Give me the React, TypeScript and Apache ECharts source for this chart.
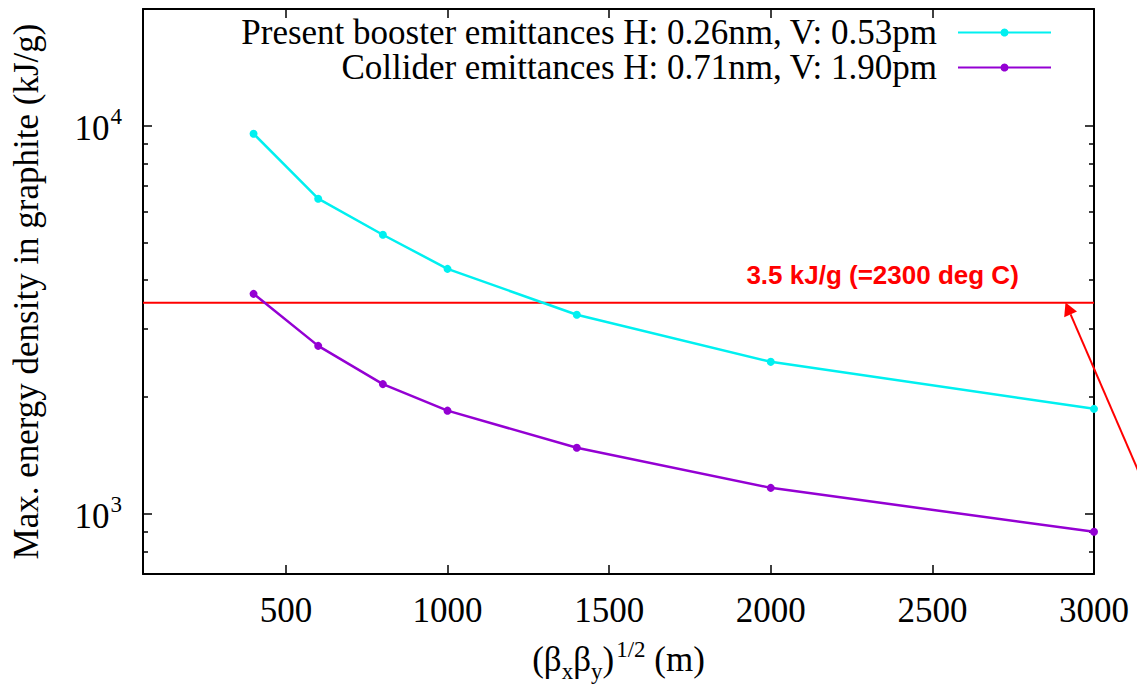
import React, { useEffect, useRef } from "react";
import * as echarts from "echarts";

// ---- data ----
const betaValues = [400, 600, 800, 1000, 1400, 2000, 3000];
const boosterDensity = [9540, 6490, 5240, 4280, 3260, 2465, 1865];
const colliderDensity = [3690, 2710, 2160, 1845, 1480, 1167, 899];
const boosterName = "Present booster emittances H: 0.26nm, V: 0.53pm";
const colliderName = "Collider emittances H: 0.71nm, V: 1.90pm";
const thresholdValue = 3500;
const thresholdLabel = "3.5 kJ/g (=2300 deg C)";
const thresholdLabelX = 2346;
const xTicks = [500, 1000, 1500, 2000, 2500, 3000];
const yMajorTicks = [1000, 10000];
const yMinorTicks = [800, 900, 2000, 3000, 4000, 5000, 6000, 7000, 8000, 9000];
const xMin = 58;
const xMax = 3000;
const yMin = 700;
const yMax = 20000;

const SERIF = '"Liberation Serif", "Times New Roman", serif';
const SANS = '"Liberation Sans", Arial, sans-serif';
const CYAN = "#00f0f0";
const PURPLE = "#9400d3";

export default function App() {
  const ref = useRef<HTMLDivElement>(null);
  useEffect(() => {
    if (!ref.current) return;
    const chart = echarts.init(ref.current, undefined, { renderer: "svg" });
    const lineStyle = { color: "#000", width: 2 };
    const tickStyle = { color: "#000", width: 1.5 };
    const legendCommon = {
      right: 85,
      align: "right",
      orient: "horizontal",
      padding: 0,
      itemWidth: 93,
      itemHeight: 10,
      selectedMode: false,
      textStyle: { fontFamily: SERIF, fontSize: 35, lineHeight: 30, color: "#000", padding: [0, 16, 0, 0] },
    };
    const yBase = {
      type: "log",
      logBase: 10,
      min: yMin,
      max: yMax,
      splitLine: { show: false },
    };
    const xBase = {
      type: "value",
      min: xMin,
      max: xMax,
      splitLine: { show: false },
    };
    chart.setOption({
      animation: false,
      backgroundColor: "#fff",
      grid: { left: 143, right: 43, top: 9, bottom: 114, containLabel: false, outerBoundsMode: "none" },
      legend: [
        { ...legendCommon, data: [boosterName], top: 15 },
        { ...legendCommon, data: [colliderName], top: 50 },
      ],
      xAxis: [
        {
          ...xBase,
          position: "bottom",
          axisLine: { show: true, onZero: false, lineStyle },
          axisTick: { show: true, inside: true, length: 9, customValues: xTicks, lineStyle: tickStyle },
          axisLabel: {
            show: true,
            customValues: xTicks,
            margin: 19,
            formatter: (v: number) => String(v),
            fontFamily: SERIF,
            fontSize: 35,
            color: "#000",
          },
          name: "{b|(β}{s|x}{b|β}{s|y}{b|)}{p|1/2}{b| (m)}",
          nameLocation: "middle",
          nameGap: 64,
          nameMoveOverlap: false,
          nameTextStyle: {
            color: "#000",
            fontFamily: SERIF,
            rich: {
              b: { fontSize: 35, padding: [4, 0, 0, 0], verticalAlign: "top", fontFamily: SERIF, color: "#000" },
              s: { fontSize: 23, padding: [22, 0, 0, 0], verticalAlign: "top", fontFamily: SERIF, color: "#000" },
              p: { fontSize: 23, padding: [0, 0, 0, 2], verticalAlign: "top", fontFamily: SERIF, color: "#000" },
            },
          },
        },
        {
          ...xBase,
          position: "top",
          axisLine: { show: true, onZero: false, lineStyle },
          axisTick: { show: true, inside: true, length: 9, customValues: xTicks, lineStyle: tickStyle },
          axisLabel: { show: false },
        },
      ],
      yAxis: [
        {
          ...yBase,
          position: "left",
          axisLine: { show: true, onZero: false, lineStyle },
          axisTick: { show: true, inside: true, length: 9, customValues: yMajorTicks, lineStyle: tickStyle },
          axisLabel: {
            show: true,
            customValues: yMajorTicks,
            margin: 21,
            formatter: (v: number) => `{b|10}{p|${Math.round(Math.log10(v))}}`,
            rich: {
              b: { fontSize: 35, padding: [6, 0, 0, 0], verticalAlign: "top", fontFamily: SERIF, color: "#000" },
              p: { fontSize: 23, padding: [0, 0, 0, 1], verticalAlign: "top", fontFamily: SERIF, color: "#000" },
            },
          },
          name: "Max. energy density in graphite (kJ/g)",
          nameLocation: "middle",
          nameRotate: 90,
          nameGap: 99,
          nameMoveOverlap: false,
          nameTextStyle: { fontFamily: SERIF, fontSize: 35, color: "#000" },
        },
        {
          ...yBase,
          position: "left",
          axisLine: { show: false },
          axisTick: { show: true, inside: true, length: 5, customValues: yMinorTicks, lineStyle: tickStyle },
          axisLabel: { show: false },
        },
        {
          ...yBase,
          position: "right",
          axisLine: { show: true, onZero: false, lineStyle },
          axisTick: { show: true, inside: true, length: 9, customValues: yMajorTicks, lineStyle: tickStyle },
          axisLabel: { show: false },
        },
        {
          ...yBase,
          position: "right",
          axisLine: { show: false },
          axisTick: { show: true, inside: true, length: 5, customValues: yMinorTicks, lineStyle: tickStyle },
          axisLabel: { show: false },
        },
      ],
      series: [
        {
          name: "threshold",
          type: "line",
          xAxisIndex: 0,
          yAxisIndex: 0,
          data: [
            [xMin, thresholdValue],
            [xMax, thresholdValue],
          ],
          symbol: "none",
          silent: true,
          lineStyle: { color: "#ff0000", width: 2 },
          itemStyle: { color: "#ff0000" },
          markPoint: {
            symbol: "circle",
            symbolSize: 0,
            silent: true,
            data: [{ coord: [thresholdLabelX, thresholdValue] }],
            label: {
              show: true,
              position: "top",
              distance: 15,
              formatter: thresholdLabel,
              fontFamily: SANS,
              fontWeight: "bold",
              fontSize: 26,
              color: "#ff0000",
            },
          },
        },
        {
          name: boosterName,
          type: "line",
          xAxisIndex: 0,
          yAxisIndex: 0,
          data: betaValues.map((x, i) => [x, boosterDensity[i]]),
          symbol: "circle",
          symbolSize: 8,
          itemStyle: { color: CYAN },
          lineStyle: { color: CYAN, width: 2.5 },
        },
        {
          name: colliderName,
          type: "line",
          xAxisIndex: 0,
          yAxisIndex: 0,
          data: betaValues.map((x, i) => [x, colliderDensity[i]]),
          symbol: "circle",
          symbolSize: 8,
          itemStyle: { color: PURPLE },
          lineStyle: { color: PURPLE, width: 2.5 },
        },
      ],
      graphic: [
        {
          type: "line",
          shape: { x1: 1140, y1: 475, x2: 1070.6, y2: 314.4 },
          style: { stroke: "#ff0000", lineWidth: 2 },
          z: 100,
        },
        {
          type: "polygon",
          shape: { points: [[1065.5, 302.5], [1077.0, 311.6], [1064.2, 317.2]] },
          style: { fill: "#ff0000" },
          z: 100,
        },
      ],
    });
    return () => chart.dispose();
  }, []);
  return (
    <div
      ref={ref}
      style={{ position: "absolute", left: 0, top: 0, width: 1137, height: 688, background: "#fff" }}
    />
  );
}
